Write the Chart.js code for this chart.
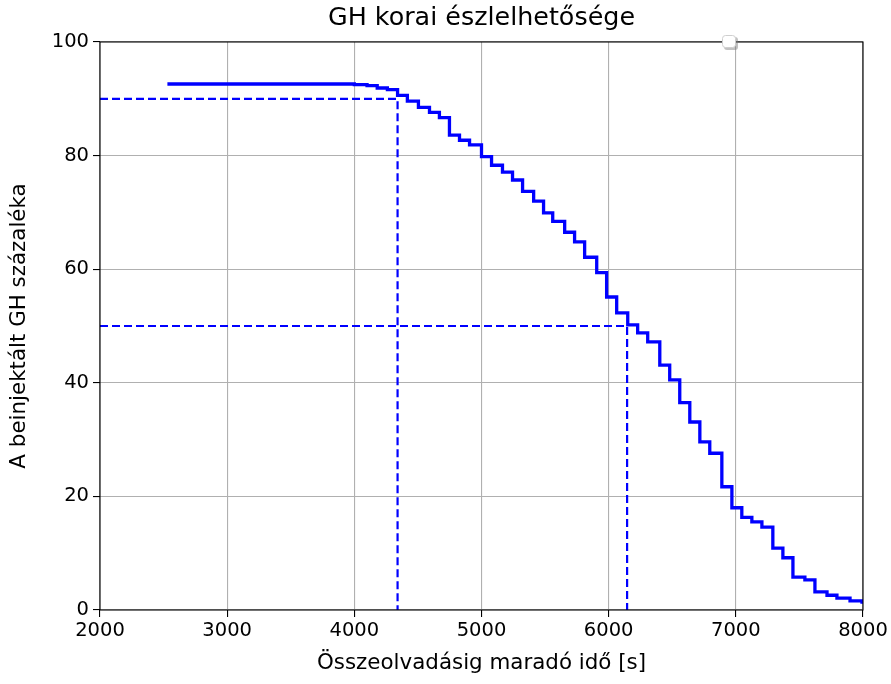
<!DOCTYPE html>
<html>
<head>
<meta charset="utf-8">
<script src="https://cdn.jsdelivr.net/npm/chart.js@4/dist/chart.umd.min.js"></script>
<style>
  html, body { margin: 0; padding: 0; background: #fff; }
  #box { width: 891px; height: 684px; }
</style>
</head>
<body>
<div id="box"><canvas id="c"></canvas></div>
<script>
// remaining time until merger [s] where the detected fraction drops
const times = [2530, 4000, 4100, 4180, 4260, 4340, 4417, 4504, 4591, 4669, 4748, 4827, 4906,
  5000, 5079, 5165, 5244, 5323, 5410, 5488, 5560, 5654, 5732, 5811, 5906, 5984, 6063, 6150,
  6228, 6307, 6402, 6480, 6559, 6638, 6717, 6795, 6890, 6969, 7047, 7126, 7205, 7291, 7370,
  7449, 7543, 7622, 7717, 7795, 7898, 7992, 8000];
// percentage of injected GH detected
const percents = [92.6, 92.5, 92.3, 91.9, 91.6, 90.6, 89.6, 88.5, 87.6, 86.7, 83.6, 82.7, 81.9,
  79.8, 78.3, 77.1, 75.7, 73.7, 72.0, 69.9, 68.4, 66.5, 64.8, 62.1, 59.4, 55.1, 52.3, 50.2,
  48.8, 47.2, 43.1, 40.5, 36.5, 33.1, 29.6, 27.6, 21.7, 18.0, 16.3, 15.5, 14.6, 10.9, 9.2,
  5.8, 5.3, 3.2, 2.6, 2.1, 1.6, 1.4, 1.3];

// reference levels and the times where the curve crosses them
const levels = [90, 50];
const crossTimes = [4340, 6145];

const xTicks = [2000, 3000, 4000, 5000, 6000, 7000, 8000];
const yTicks = [0, 20, 40, 60, 80, 100];

const FONT = "'DejaVu Sans', sans-serif";

const curve = times.map((t, i) => ({ x: t, y: percents[i] }));
const guides = levels.map((lv, i) => ({
  type: 'line',
  data: [{ x: xTicks[0], y: lv }, { x: crossTimes[i], y: lv }, { x: crossTimes[i], y: yTicks[0] }],
  borderColor: '#0000ff',
  borderWidth: 2.2,
  borderDash: [8, 4],
  pointRadius: 0,
  fill: false
}));

// full black frame plus the small empty legend box
const frame = {
  id: 'frame',
  afterDraw(chart) {
    const { ctx, chartArea: a } = chart;
    ctx.save();
    ctx.strokeStyle = '#000';
    ctx.lineWidth = 1.1;
    ctx.strokeRect(a.left, a.top, a.right - a.left, a.bottom - a.top);

    ctx.fillStyle = 'rgba(120,120,120,0.45)';
    ctx.beginPath();
    ctx.roundRect(724, 37, 14, 13, 3);
    ctx.fill();
    ctx.fillStyle = '#fff';
    ctx.strokeStyle = '#cfcfcf';
    ctx.lineWidth = 1;
    ctx.beginPath();
    ctx.roundRect(722.5, 35.5, 13, 12, 3);
    ctx.fill();
    ctx.stroke();
    ctx.restore();
  }
};

new Chart(document.getElementById('c'), {
  type: 'line',
  data: {
    datasets: [
      {
        data: curve,
        borderColor: '#0000ff',
        borderWidth: 3.3,
        stepped: 'before',
        pointRadius: 0,
        fill: false
      },
      ...guides
    ]
  },
  options: {
    responsive: true,
    maintainAspectRatio: false,
    animation: false,
    layout: { padding: { right: 28 } },
    plugins: {
      legend: { display: false },
      tooltip: { enabled: false },
      title: {
        display: true,
        text: 'GH korai észlelhetősége',
        fullSize: false,
        color: '#000',
        font: { family: FONT, size: 25.4, weight: 'normal', lineHeight: 1.2 },
        padding: { top: 3, bottom: 8.5 }
      }
    },
    scales: {
      x: {
        type: 'linear',
        min: xTicks[0],
        max: xTicks[xTicks.length - 1],
        afterFit: s => { s.height = 74; },
        afterBuildTicks: s => { s.ticks = xTicks.map(v => ({ value: v })); },
        ticks: { color: '#000', font: { family: FONT, size: 19.5 }, padding: 2, maxRotation: 0, callback: v => String(v) },
        grid: { color: '#b0b0b0', lineWidth: 1.1, tickColor: '#000', tickLength: 7 },
        border: { display: false },
        title: {
          display: true,
          text: 'Összeolvadásig maradó idő [s]',
          color: '#000',
          font: { family: FONT, size: 21.4, lineHeight: 1.2 },
          padding: { top: 0, bottom: 8 }
        }
      },
      y: {
        min: yTicks[0],
        max: yTicks[yTicks.length - 1],
        afterFit: s => { s.width = 100; },
        afterBuildTicks: s => { s.ticks = yTicks.map(v => ({ value: v })); },
        ticks: { color: '#000', font: { family: FONT, size: 19.5 }, padding: 4, callback: v => String(v) },
        grid: { color: '#b0b0b0', lineWidth: 1.1, tickColor: '#000', tickLength: 7 },
        border: { display: false },
        title: {
          display: true,
          text: 'A beinjektált GH százaléka',
          color: '#000',
          font: { family: FONT, size: 21.4, lineHeight: 1.2 },
          padding: { top: 7, bottom: 0 }
        }
      }
    }
  },
  plugins: [frame]
});
</script>
</body>
</html>
